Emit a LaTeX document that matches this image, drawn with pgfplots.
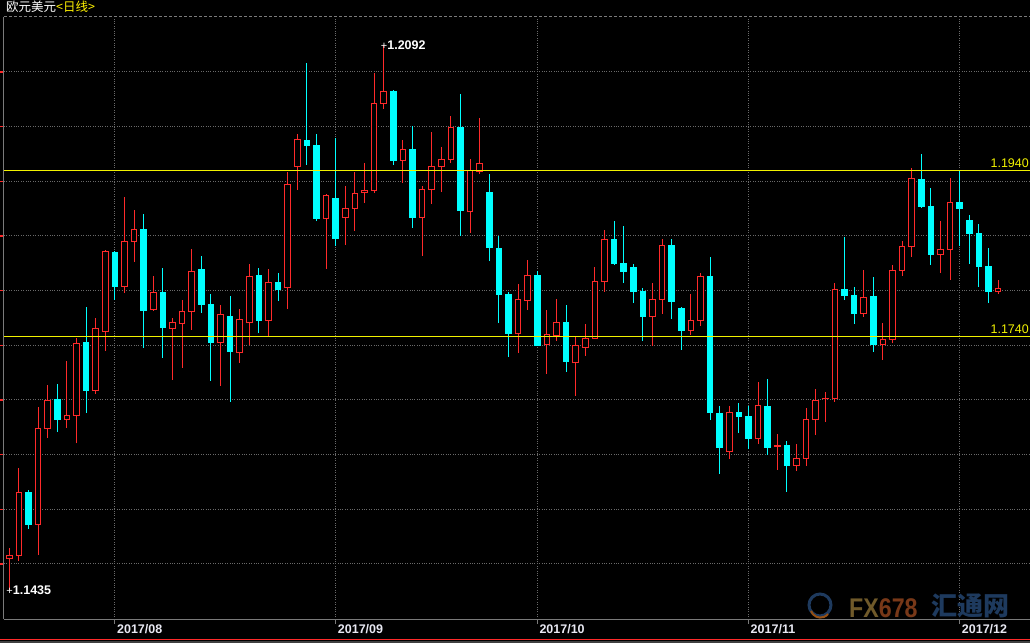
\documentclass[border=0pt]{standalone}
\usepackage{pgfplots}
\pgfplotsset{compat=1.18}
\usepackage{pgfplotstable}
\usepackage{fontspec}
\setmainfont{Liberation Sans}
\newfontfamily\cjk{Noto Sans CJK SC}
\definecolor{candred}{HTML}{FF2A2A}
\definecolor{candcyan}{HTML}{00FFFF}
\definecolor{gridgray}{HTML}{6A6A6A}
\definecolor{axgray}{HTML}{7A7A7A}
\definecolor{lvl}{HTML}{F2F200}
\definecolor{ticklab}{HTML}{E8E8F2}

% up (red, hollow) candles: index, open, high, low, close
\pgfplotstableread{
k o h l c
1 1.14725 1.14858 1.14352 1.14773
2 1.14765 1.15822 1.14705 1.15529
4 1.15143 1.16553 1.14773 1.16300
5 1.16295 1.16822 1.16187 1.16629
7 1.16408 1.17111 1.16307 1.16456
8 1.16456 1.17388 1.16119 1.17324
10 1.16758 1.17629 1.16710 1.17505
11 1.17469 1.18448 1.17235 1.18424
13 1.18011 1.19087 1.17934 1.18556
14 1.18553 1.18930 1.18307 1.18697
16 1.17729 1.18131 1.17713 1.17938
18 1.17500 1.17629 1.16885 1.17577
19 1.17560 1.17846 1.17030 1.17710
20 1.17710 1.18460 1.17488 1.18191
23 1.17331 1.17785 1.16813 1.17665
25 1.17211 1.17737 1.17090 1.17605
26 1.17572 1.18279 1.17303 1.18131
28 1.17596 1.18219 1.17403 1.18059
30 1.17999 1.19391 1.17741 1.19240
31 1.19452 1.19846 1.19175 1.19782
34 1.18825 1.19123 1.18219 1.19099
36 1.18837 1.19219 1.18508 1.18950
37 1.18946 1.19391 1.18677 1.19131
38 1.19138 1.19496 1.19014 1.19167
39 1.19162 1.20584 1.19138 1.20215
40 1.20211 1.20920 1.20147 1.20360
42 1.19524 1.19773 1.19259 1.19661
44 1.18842 1.19219 1.18379 1.19179
45 1.19179 1.19870 1.19006 1.19456
46 1.19456 1.19689 1.19150 1.19541
47 1.19541 1.20062 1.19500 1.19926
49 1.18909 1.19544 1.18656 1.19408
50 1.19396 1.20038 1.19367 1.19493
54 1.17440 1.18038 1.17211 1.17854
55 1.17842 1.18328 1.17729 1.18135
57 1.17307 1.17725 1.16958 1.17432
58 1.17415 1.17858 1.17355 1.17577
60 1.17090 1.17400 1.16693 1.17300
61 1.17276 1.17556 1.17175 1.17384
62 1.17384 1.18243 1.17380 1.18071
63 1.18071 1.18689 1.17946 1.18577
68 1.17649 1.18047 1.17295 1.17854
69 1.17854 1.18577 1.17681 1.18505
72 1.17481 1.17918 1.17428 1.17601
73 1.17596 1.18171 1.17536 1.18131
76 1.16023 1.16569 1.15934 1.16493
79 1.16175 1.16858 1.16114 1.16569
81 1.16081 1.16231 1.15801 1.16087
83 1.15849 1.16111 1.15789 1.15938
84 1.15938 1.16544 1.15849 1.16408
85 1.16404 1.16773 1.16223 1.16637
86 1.16653 1.16737 1.16379 1.16661
87 1.16661 1.18050 1.16620 1.17974
90 1.17681 1.18207 1.17644 1.17878
92 1.17307 1.17569 1.17126 1.17372
93 1.17372 1.18267 1.17324 1.18203
94 1.18203 1.18556 1.18138 1.18493
95 1.18488 1.19436 1.18367 1.19312
98 1.18396 1.18797 1.18175 1.18456
99 1.18456 1.19315 1.18090 1.19026
104 1.17950 1.18087 1.17922 1.17987
}\upData

% down (cyan, filled) candles: index, open, high, low, close
\pgfplotstableread{
k o h l c
3 1.15529 1.15556 1.15087 1.15135
6 1.16653 1.16834 1.16259 1.16404
9 1.17340 1.17761 1.16488 1.16753
12 1.18424 1.18430 1.17846 1.18006
15 1.18701 1.18882 1.17271 1.17717
17 1.17942 1.18231 1.17150 1.17512
21 1.18219 1.18376 1.17693 1.17789
22 1.17797 1.17918 1.16870 1.17331
24 1.17653 1.17894 1.16620 1.17223
27 1.18147 1.18231 1.17452 1.17596
29 1.18062 1.18171 1.17837 1.17970
32 1.19773 1.20701 1.19476 1.19705
33 1.19713 1.19846 1.18797 1.18822
35 1.19075 1.19797 1.18496 1.18581
41 1.20364 1.20370 1.19476 1.19524
43 1.19665 1.19942 1.18717 1.18837
48 1.19926 1.20327 1.18617 1.18922
51 1.19143 1.19360 1.18315 1.18476
52 1.18472 1.18617 1.17572 1.17909
53 1.17914 1.17938 1.17163 1.17440
56 1.18147 1.18195 1.17290 1.17295
59 1.17581 1.17785 1.16982 1.17102
64 1.18581 1.18797 1.18271 1.18283
65 1.18291 1.18737 1.18054 1.18187
66 1.18243 1.18279 1.17813 1.17946
67 1.17954 1.17990 1.17355 1.17644
70 1.18505 1.18577 1.17620 1.17825
71 1.17749 1.17761 1.17247 1.17476
74 1.18135 1.18364 1.16404 1.16488
75 1.16484 1.16569 1.15753 1.16066
77 1.16496 1.16605 1.16247 1.16440
78 1.16448 1.16569 1.16050 1.16175
80 1.16569 1.16894 1.15982 1.16066
82 1.16099 1.16147 1.15536 1.15849
88 1.17974 1.18605 1.17849 1.17897
89 1.17906 1.18002 1.17560 1.17681
91 1.17894 1.18123 1.17223 1.17307
96 1.19300 1.19605 1.18958 1.18970
97 1.18978 1.19191 1.18271 1.18391
100 1.19026 1.19400 1.18500 1.18946
101 1.18809 1.18870 1.18283 1.18644
102 1.18653 1.18761 1.18006 1.18247
103 1.18255 1.18472 1.17813 1.17946
}\downData

\begin{document}
\begin{tikzpicture}[x=1pt,y=1pt]
\fill[black] (0,0) rectangle (1030,643);
\begin{axis}[
  at={(4pt,24pt)}, anchor=south west,
  scale only axis, width=1026pt, height=602pt,
  xmin=0.448, xmax=107.32, ymin=1.14002, ymax=1.21255,
  axis lines=left,
  axis line style={-, draw=axgray, line width=1pt},
  xtick={12,35,56,78,100},
  xticklabels={2017/08,2017/09,2017/10,2017/11,2017/12},
  xticklabel style={font=\fontsize{12.5}{13}\selectfont\bfseries, text=ticklab, anchor=north west, inner sep=0pt, xshift=2pt},
  ytick={1.14665,1.15324,1.15982,1.16641,1.17300,1.17958,1.18617,1.19276,1.19934,1.20593},
  yticklabels={},
  minor y tick num=4,
  grid=major,
  major grid style={draw=gridgray, dotted, line width=1pt},
  tick align=outside,
  major tick length=5pt, minor tick length=1.5pt,
  xtick style={draw=axgray, line width=1pt},
  major y tick style={draw=candred, line width=1.5pt},
  minor y tick style={draw=axgray, line width=1pt},
  clip=false,
]
% top dashed border
\draw[axgray, dash pattern=on 3pt off 2pt, line width=1pt] (rel axis cs:0,1) -- (rel axis cs:1,1);

% down candles: wicks then filled bodies
\addplot[draw=none, mark=none, forget plot,
  error bars/.cd, y dir=plus, y explicit, error mark=none,
  error bar style={draw=candcyan, solid, line width=1pt}]
  table[x=k, y=l, y error plus expr=\thisrow{h}-\thisrow{l}] {\downData};
\addplot[draw=none, mark=none, forget plot,
  error bars/.cd, y dir=plus, y explicit, error mark=none,
  error bar style={draw=candcyan, solid, line width=6.5pt}]
  table[x=k, y=c, y error plus expr=\thisrow{o}-\thisrow{c}] {\downData};

% up candles: wicks, red body, black inside
\addplot[draw=none, mark=none, forget plot,
  error bars/.cd, y dir=plus, y explicit, error mark=none,
  error bar style={draw=candred, solid, line width=1pt}]
  table[x=k, y=l, y error plus expr=\thisrow{h}-\thisrow{l}] {\upData};
\addplot[draw=none, mark=none, forget plot,
  error bars/.cd, y dir=plus, y explicit, error mark=none,
  error bar style={draw=candred, solid, line width=6.5pt}]
  table[x=k, y expr=\thisrow{o}-0.00006, y error plus expr=\thisrow{c}-\thisrow{o}+0.00012] {\upData};
\addplot[draw=none, mark=none, forget plot,
  error bars/.cd, y dir=plus, y explicit, error mark=none,
  error bar style={draw=black, solid, line width=4.5pt}]
  table[x=k, y expr=\thisrow{o}+0.00006, y error plus expr={max(\thisrow{c}-\thisrow{o}-0.00012,0)}] {\upData};

% level lines
\addplot[lvl, line width=1pt, forget plot] coordinates {(0.448,1.1940) (107.32,1.1940)};
\addplot[lvl, line width=1pt, forget plot] coordinates {(0.448,1.1740) (107.32,1.1740)};
\node[anchor=south east, inner sep=0pt, text=lvl, font=\fontsize{12.5}{13}\selectfont, xshift=-1pt, yshift=3pt] at (axis cs:107.32,1.1940) {1.1940};
\node[anchor=south east, inner sep=0pt, text=lvl, font=\fontsize{12.5}{13}\selectfont, xshift=-1pt, yshift=3pt] at (axis cs:107.32,1.1740) {1.1740};

% extreme labels
\node[anchor=west, inner sep=0pt, text=white, xshift=-3pt] at (axis cs:40,1.2092) {{\fontsize{11}{11}\selectfont +}{\fontsize{12.5}{13}\selectfont\bfseries 1.2092}};
\node[anchor=west, inner sep=0pt, text=white, xshift=-3pt] at (axis cs:1,1.14352) {{\fontsize{11}{11}\selectfont +}{\fontsize{12.5}{13}\selectfont\bfseries 1.1435}};
\end{axis}

% title
\node[anchor=base west, inner sep=0pt, font=\cjk\fontsize{12.5}{13}\selectfont] at (6,631) {\textcolor{white}{欧元美元}\textcolor{yellow}{<日线>}};

% bottom strip
\draw[candred, line width=1pt] (0,3.5) -- (1030,3.5);
\fill[black!75] (0,0) rectangle (1030,2);

% watermark
\draw[color={rgb,255:red,30;green,58;blue,94}, line width=3pt] (820,38) circle (11);
\draw[color={rgb,255:red,150;green,80;blue,20}, line width=2pt] (811,32) arc (200:320:10);
\node[anchor=base west, inner sep=0pt, font=\fontsize{27}{28}\selectfont\bfseries] at (849,26) {\scalebox{0.86}[1]{\textcolor[RGB]{112,90,42}{FX}\textcolor[RGB]{120,56,24}{678}}};
\node[anchor=base west, inner sep=0pt, font=\cjk\fontsize{26}{27}\selectfont\bfseries] at (931,28) {\textcolor[RGB]{30,58,94}{汇通网}};

\pgfresetboundingbox
\useasboundingbox (0,0) rectangle (1030,643);
\end{tikzpicture}
\end{document}
